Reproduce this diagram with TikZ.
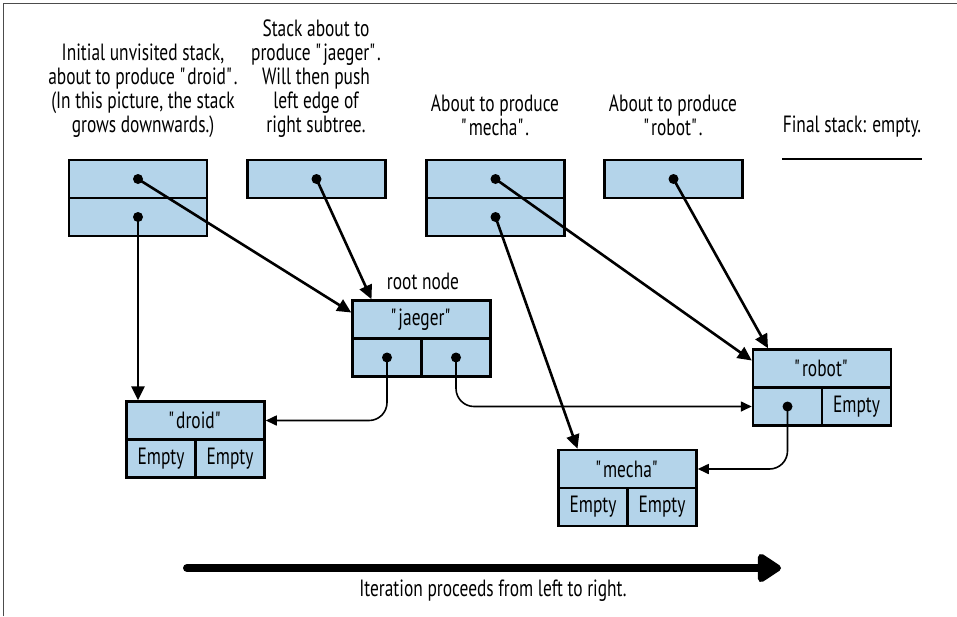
\documentclass[tikz,border=0pt]{standalone}
\usepackage{fontspec}
\setmainfont[FakeStretch=0.74]{PT Sans}
\usetikzlibrary{arrows.meta,calc}
\definecolor{boxblue}{RGB}{180,212,234}
\newcommand\qq[1]{\textquotedbl#1\textquotedbl}
\begin{document}
\begin{tikzpicture}[x=1pt,y=-1pt,
  cell/.style={draw=black,fill=boxblue,line width=2.5pt,rectangle,inner sep=0pt,minimum height=38pt,font=\fontsize{23.5}{24}\selectfont},
  wide/.style={cell,minimum width=138pt},
  half/.style={cell,minimum width=69pt},
  lbl/.style={align=center,inner sep=0pt,font=\fontsize{23.5}{24}\selectfont},
  ptr/.style={line width=2.6pt,-{Triangle[length=14pt,width=13pt]}},
  cptr/.style={line width=1.6pt,rounded corners=18pt,-{Triangle[length=11pt,width=10pt]}},
  dot/.style={circle,fill=black,inner sep=0pt,minimum size=10pt}]
\useasboundingbox (0,0) rectangle (957,616);
\draw[gray!60!black,line width=1.5pt] (3.5,616) -- (3.5,3.5) -- (957,3.5);

% labels
\node[lbl] (t1) at (143,91) {Initial unvisited stack,\\about to produce \qq{droid}.\\(In this picture, the stack\\grows downwards.)};
\node[lbl] (t2) at (316,79) {Stack about to\\produce \qq{jaeger}.\\Will then push\\left edge of\\right subtree.};
\node[lbl] (t3) at (495,115) {About to produce\\\qq{mecha}.};
\node[lbl] (t4) at (673,115) {About to produce\\\qq{robot}.};
\node[lbl] (t5) at (852,127) {Final stack: empty.};
\node[lbl] (root) at (423,281) {root node};

% stacks
\node[wide] (s1a) at (138,179) {};
\node[wide] (s1b) at (138,217) {};
\node[wide] (s2) at (316.5,179) {};
\node[wide] (s3a) at (495.5,179) {};
\node[wide] (s3b) at (495.5,217) {};
\node[wide] (s4) at (673.5,179) {};
\coordinate (f1) at (782,159);
\coordinate (f2) at (922,159);
\draw[line width=2.5pt] (f1) -- (f2);

% tree nodes
\node[wide] (jt) at (421.5,319.5) {\qq{jaeger}};
\node[half] (jl) at (387,357.5) {};
\node[half] (jr) at (456,357.5) {};
\node[wide] (dt) at (195.5,420.5) {\qq{droid}};
\node[half] (dl) at (161,458.5) {Empty};
\node[half] (dr) at (230,458.5) {Empty};
\node[wide] (rt) at (822,368.5) {\qq{robot}};
\node[half] (rl) at (787.5,406.5) {};
\node[half] (rr) at (856.5,406.5) {Empty};
\node[wide] (mt) at (627.5,469) {\qq{mecha}};
\node[half] (ml) at (593,507) {Empty};
\node[half] (mr) at (662,507) {Empty};

% dots
\foreach \n in {s1a,s1b,s2,s3a,s3b,s4,jl,jr,rl} \node[dot] (d\n) at (\n.center) {};

% pointers
\draw[ptr] (ds1a.center) -- ([yshift=7pt]jt.west);
\draw[ptr] (ds1b.center) -- (ds1b.center |- dt.north);
\draw[ptr] (ds2.center) -- ([xshift=-50pt]jt.north);
\draw[ptr] (ds3a.center) -- ([yshift=8pt]rt.west);
\draw[ptr] (ds3b.center) -- ([xshift=-50pt]mt.north);
\draw[ptr] (ds4.center) -- ([xshift=-54pt]rt.north);
\draw[cptr] (djl.center) |- (dt.east);
\draw[cptr] (djr.center) |- (rl.west);
\draw[cptr] (drl.center) |- (mt.east);

% iteration arrow
\coordinate (ia) at (187,568);
\coordinate (ib) at (781,568);
\draw[line width=8pt,line cap=round,-{Triangle[length=26pt,width=32pt,round=false]}] (ia) -- (ib);
\node[lbl] (it) at (493,591) {Iteration proceeds from left to right.};
\end{tikzpicture}
\end{document}
